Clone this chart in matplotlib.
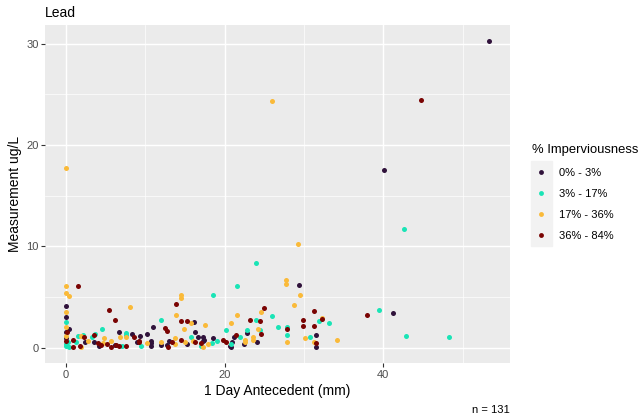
import matplotlib
matplotlib.use("Agg")
import matplotlib.pyplot as plt
from matplotlib.lines import Line2D
from matplotlib.patches import Rectangle

plt.rcParams['font.family'] = ['Liberation Sans', 'DejaVu Sans']

# 1 day antecedent rain (mm) and lead measurement (ug/L), by imperviousness class
x_0_3 = [53.3, 40.1, 41.2, 29.3, 31.5, 31.5, 22.8, 21.2, 22.4, 24.1, 20.9, 20.7, 20.8,
         18.5, 17.2, 17.4, 16.1, 11.0, 10.2, 16.2, 13.0, 15.3, 16.6, 17.3, 10.7, 10.7,
         10.7, 8.9, 9.3, 8.3, 12.0, 12.7, 0.0, 0.0, 0.0, 0.0, 2.4, 3.5, 4.1, 6.7, 6.1, 0.3]
y_0_3 = [30.3, 17.55, 3.4, 6.2, 1.2, 0.03, 1.45, 1.0, 0.37, 0.6, 0.6, 0.13, 0.03,
         0.92, 1.09, 0.76, 2.57, 2.05, 1.36, 1.58, 0.66, 0.37, 1.02, 0.66, 0.69, 0.47,
         0.2, 0.52, 1.19, 1.36, 0.3, 0.3, 4.06, 3.0, 1.5, 0.96, 0.52, 0.6, 0.2, 1.51, 0.27, 1.8]

x_3_17 = [42.6, 24.0, 39.4, 42.9, 48.3, 25.9, 26.7, 27.9, 31.9, 33.2, 27.9, 30.8, 21.6,
          18.5, 23.9, 24.4, 22.8, 20.1, 21.9, 20.8, 19.0, 18.4, 11.9, 15.7, 9.4, 7.6,
          0.0, 0.0, 0.0, 4.5, 1.55, 2.1, 3.2, 3.6, 1.2, 7.6, 7.1, 0.4, 0.2, 17.0]
y_3_17 = [11.7, 8.4, 3.7, 1.1, 1.0, 3.1, 2.05, 2.05, 2.6, 2.45, 1.2, 1.0, 6.1,
          5.2, 2.7, 1.7, 1.75, 1.75, 1.0, 0.37, 0.66, 0.47, 2.74, 1.02, 0.2, 1.29,
          2.5, 0.37, 0.13, 1.88, 1.19, 1.26, 1.02, 1.35, 0.52, 1.42, 0.2, 0.03, 0.6, 0.2]

x_17_36 = [0.0, 26.0, 29.2, 27.7, 27.7, 29.5, 28.7, 32.3, 27.9, 30.1, 31.2, 34.1, 21.6,
           20.8, 17.5, 24.6, 24.2, 22.5, 22.6, 23.6, 23.6, 17.9, 17.2, 14.5, 14.5, 8.1,
           13.9, 15.7, 14.8, 13.7, 16.0, 15.0, 10.2, 7.5, 11.9, 13.7, 0.0, 0.0, 0.3,
           0.0, 0.0, 0.0, 2.7, 1.9, 4.8, 4.7, 6.8, 1.9, 5.7]
y_17_36 = [17.7, 24.3, 10.2, 6.7, 6.3, 5.2, 4.2, 2.9, 0.56, 0.96, 0.6, 0.76, 3.2,
           2.4, 2.25, 3.5, 1.85, 0.76, 0.52, 1.0, 0.8, 0.37, 0.03, 5.15, 4.9, 4.0,
           3.17, 2.4, 1.85, 0.96, 0.69, 0.52, 0.5, 1.09, 0.52, 0.37, 6.04, 5.35, 5.05,
           3.5, 2.0, 1.19, 0.69, 0.03, 0.96, 0.47, 1.09, 1.19, 0.69]

x_36_84 = [44.7, 37.9, 31.2, 27.9, 29.9, 29.9, 31.2, 32.3, 31.5, 24.9, 23.2, 24.4, 24.6,
           21.4, 19.8, 20.1, 17.0, 13.9, 14.5, 15.2, 12.4, 12.7, 14.5, 13.4, 16.3, 9.2,
           9.2, 8.5, 7.6, 12.8, 1.5, 5.4, 6.1, 0.0, 2.3, 3.5, 1.7, 0.9, 4.0, 4.4, 5.2,
           5.7, 6.3, 6.6, 0.8, 0.1]
y_36_84 = [24.4, 3.24, 3.6, 1.8, 2.7, 2.15, 2.15, 2.8, 0.47, 3.9, 2.7, 2.6, 1.35,
           1.25, 0.76, 0.6, 0.43, 4.26, 2.67, 2.67, 1.9, 1.65, 0.8, 0.56, 0.59, 0.52,
           0.7, 1.02, 0.2, 0.1, 6.04, 3.73, 2.74, 0.69, 1.09, 1.26, 0.2, 0.8, 0.43, 0.3,
           0.37, 0.1, 0.27, 0.13, 0.03, 1.5]

groups = ['0% - 3%', '3% - 17%', '17% - 36%', '36% - 84%']
colors = ['#30123B', '#1AE4B6', '#FABA39', '#7A0403']
xs = [x_0_3, x_3_17, x_17_36, x_36_84]
ys = [y_0_3, y_3_17, y_17_36, y_36_84]

fig = plt.figure(figsize=(6.43, 4.19), dpi=100)
ax = fig.add_axes([45 / 643, 1 - 363 / 419, 465 / 643, 338 / 419])
ax.set_facecolor('#EBEBEB')

for gx, gy, c in zip(xs, ys, colors):
    ax.scatter(gx, gy, s=13, color=c, linewidths=0, zorder=3)

ax.set_xlim(-2.67, 55.97)
ax.set_ylim(-1.52, 31.85)
ax.set_xticks([0, 20, 40])
ax.set_yticks([0, 10, 20, 30])
ax.set_xticks([10, 30, 50], minor=True)
ax.set_yticks([5, 15, 25], minor=True)
ax.grid(which='major', color='white', linewidth=1.05, zorder=0)
ax.grid(which='minor', color='white', linewidth=0.5, zorder=0)
ax.set_axisbelow(True)
for s in ax.spines.values():
    s.set_visible(False)
ax.tick_params(which='major', length=2.7, width=0.8, color='#333333',
               labelsize=8, labelcolor='#4D4D4D', pad=2)
ax.tick_params(which='minor', length=0)

ax.set_xlabel('1 Day Antecedent (mm)', fontsize=10, labelpad=3)
ax.set_ylabel('Measurement ug/L', fontsize=10, labelpad=3)
ax.set_title('Lead', fontsize=10, loc='left', pad=6)
fig.text(510 / 643, 1 - 410 / 419, 'n = 131', ha='right', va='center', fontsize=8)

# legend
fig.patches.append(Rectangle((531 / 643, 1 - 246 / 419), 21 / 643, 85 / 419,
                             transform=fig.transFigure, color='#F2F2F2', zorder=0))
handles = [Line2D([], [], linestyle='none', marker='o', markersize=3.5,
                  markerfacecolor=c, markeredgewidth=0) for c in colors]
leg = fig.legend(handles, groups, loc='upper left', bbox_to_anchor=(528 / 643, 1 - 140 / 419),
                 frameon=False, fontsize=8, title='% Imperviousness', title_fontsize=9.4,
                 handlelength=1.6, handletextpad=0.8, labelspacing=1.0,
                 borderaxespad=0)
leg._legend_box.align = 'left'

fig.savefig('out.png', dpi=100)
